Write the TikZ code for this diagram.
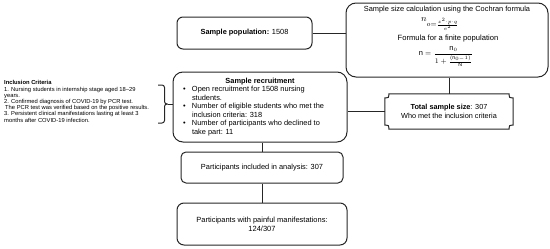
\documentclass[tikz,border=0pt]{standalone}
\usepackage{fontspec}
\setmainfont{Liberation Sans}
\usetikzlibrary{calc}
\begin{document}
\begin{tikzpicture}[x=1pt,y=-1pt,
  box/.style={draw=black!85, line width=1pt, rounded corners=#1, inner sep=0pt, text=black, align=center},
  box/.default=6pt,
  conn/.style={draw=black!85, line width=1pt},
  txt/.style={inner sep=0pt, text=black, align=center}]
\useasboundingbox (0,0) rectangle (550,249);

% Sample population
\node[box=6pt, minimum width=135pt, minimum height=32pt, font=\fontsize{7.4}{9}\selectfont] (sp) at (244.5,33) {\textbf{Sample population:} 1508};

% Cochran box
\node[box=10pt, minimum width=202pt, minimum height=74pt] (coch) at (447,40) {};
\node[txt, font=\fontsize{7.4}{8}\selectfont] (c1) at (447,9.5) {Sample size calculation using the Cochran formula};
\node[txt, font=\fontsize{9.5}{10}\selectfont] (c2) at (440,24) {$n_{o=\frac{z^2\cdot p\cdot q}{e^2}}$};
\node[txt, font=\fontsize{7.6}{8}\selectfont] (c3) at (448,38.5) {Formula for a finite population};
\node[txt, font=\fontsize{7.5}{9}\selectfont] (c4) at (446,56.5) {$\displaystyle\mathrm{n} = \frac{\mathrm{n}_0}{1+\frac{(\mathrm{n}_{0-}1)}{\mathrm{N}}}$};

% Total sample size plaque
\node[txt, minimum width=128pt, minimum height=35pt, font=\fontsize{7.3}{9}\selectfont] (ts) at (449,111.5) {\textbf{Total sample size}: 307\\Who met the inclusion criteria};
\draw[conn]
  ($(ts.north west)+(4,0)$) -- ($(ts.north east)+(-4,0)$)
  .. controls ($(ts.north east)+(-4,4)$) .. ($(ts.north east)+(0,4)$)
  -- ($(ts.south east)+(0,-4)$)
  .. controls ($(ts.south east)+(-4,-4)$) .. ($(ts.south east)+(-4,0)$)
  -- ($(ts.south west)+(4,0)$)
  .. controls ($(ts.south west)+(4,-4)$) .. ($(ts.south west)+(0,-4)$)
  -- ($(ts.north west)+(0,4)$)
  .. controls ($(ts.north west)+(4,4)$) .. ($(ts.north west)+(4,0)$) -- cycle;

% Sample recruitment
\node[box=10pt, minimum width=174pt, minimum height=70pt, font=\fontsize{7.4}{8.5}\selectfont] (rec) at (260,107) {%
\begin{minipage}{164pt}\centering\textbf{Sample recruitment}\par\raggedright
\hspace*{5pt}\makebox[9pt][l]{\textbullet}Open recruitment for 1508 nursing\\
\hspace*{14pt}students.\\
\hspace*{5pt}\makebox[9pt][l]{\textbullet}Number of eligible students who met the\\
\hspace*{14pt}inclusion criteria: 318\\
\hspace*{5pt}\makebox[9pt][l]{\textbullet}Number of participants who declined to\\
\hspace*{14pt}take part: 11
\end{minipage}};

% Included
\node[box=5pt, minimum width=162pt, minimum height=31pt, font=\fontsize{7.4}{8}\selectfont] (inc) at (262,167.5) {Participants included in analysis: 307};

% Painful
\node[box=7pt, minimum width=170pt, minimum height=42pt, font=\fontsize{7.5}{9}\selectfont] (pain) at (262,224) {Participants with painful manifestations:\\124/307};

% Inclusion criteria
\node[txt, align=left, anchor=north west, font=\fontsize{5.8}{6.2}\selectfont] (inc crit) at (4,80.5) {%
\textbf{Inclusion Criteria}\\
1. Nursing students in internship stage aged 18--29\\
years.\\
2. Confirmed diagnosis of COVID-19 by PCR test.\\
\hspace*{1pt}The PCR test was verified based on the positive results.\\
3. Persistent clinical manifestations lasting at least 3\\
months after COVID-19 infection.};

% Bracket
\coordinate (tip) at (167.5,104);
\draw[conn, rounded corners=2.5pt] (158,85) -- (164.5,85) -- (164.5,104) -- (tip);
\draw[conn, rounded corners=2.5pt] (158,123) -- (164.5,123) -- (164.5,104) -- (tip);

% Connectors
\draw[conn] (sp.east) -- (sp.east -| coch.west);
\draw[conn] (ts.north) -- (ts.north |- coch.south);
\draw[conn] (ts.west) -- (ts.west -| rec.east);
\draw[conn] (tip) -- (tip -| rec.west);
\draw[conn] (inc.north) -- (inc.north |- rec.south);
\draw[conn] (inc.south) -- (pain.north);
\end{tikzpicture}
\end{document}
